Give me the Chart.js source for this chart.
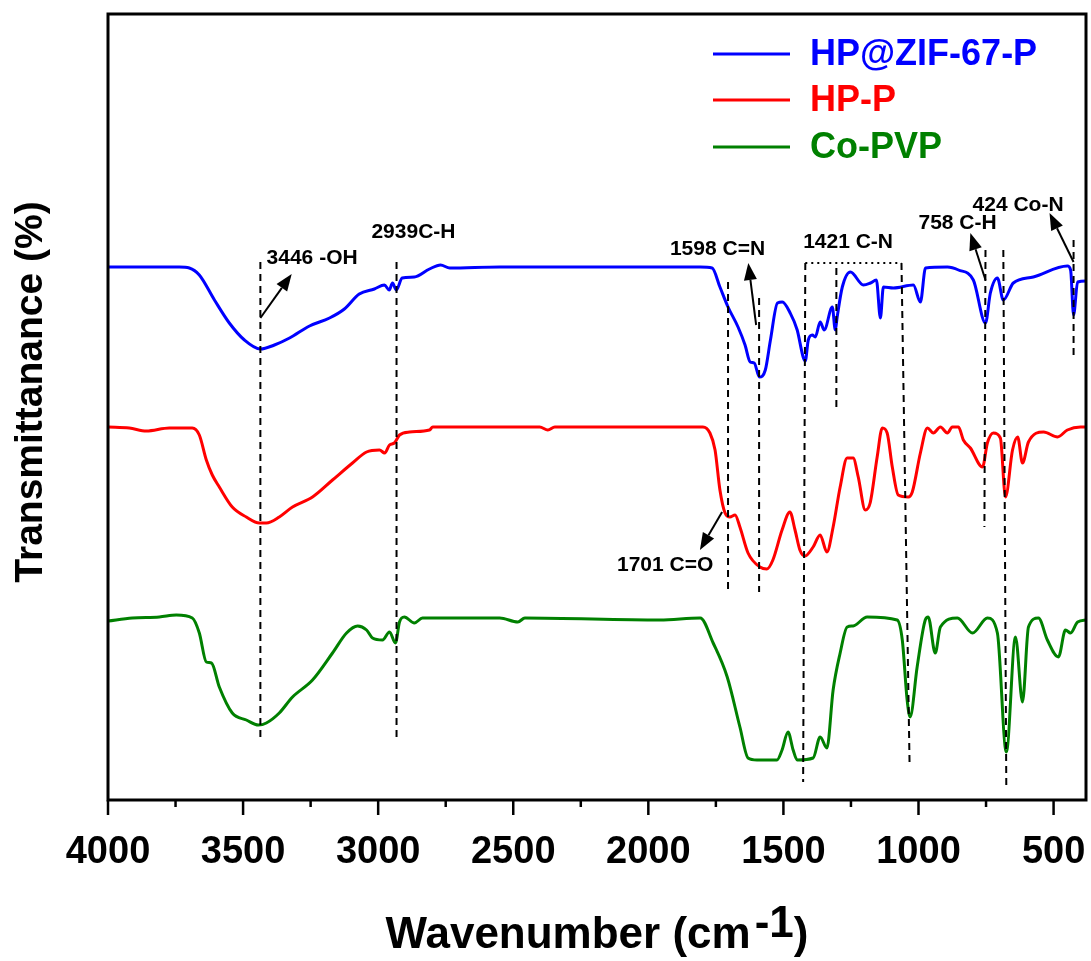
<!DOCTYPE html>
<html><head><meta charset="utf-8">
<script src="https://cdn.jsdelivr.net/npm/chart.js@4"></script>
<style>html,body{margin:0;padding:0;background:#fff;overflow:hidden}</style>
</head><body>
<canvas id="c" width="1091" height="961"></canvas>
<script>
// ---------- data ----------
const seriesNames = ['HP@ZIF-67-P', 'HP-P', 'Co-PVP'];

const hpzifWavenumber = [4000,3847,3736,3699,3662,3606,3551,3495,3436,3384,3328,3254,3180,3125,3070,3014,2977,2959,2947,2933,2911,2866,2810,2769,2735,2550,2179,1808,1764,1735,1705,1668,1642,1623,1608,1589,1567,1548,1522,1504,1475,1449,1427,1419,1408,1393,1382,1364,1349,1319,1308,1301,1282,1252,1204,1178,1156,1141,1130,1093,1019,993,974,893,852,797,752,734,708,686,649,575,449,437,426,411,378];
const hpzifT = [533,533,533,532,525,500,477,460,451,455,462,474,482,491,506,511,515,510,517,510,522,523,531,535,532,533,533,533,532,513,493,473,455,438,437,423,430,460,497,498,487,470,443,439,460,465,463,478,470,493,470,483,513,528,515,517,520,482,513,512,515,498,532,533,530,520,477,507,522,500,517,523,534,530,485,518,519];

const hppWavenumber = [4000,3921,3858,3773,3688,3662,3636,3614,3588,3540,3488,3440,3414,3366,3317,3243,3169,3095,3043,2995,2976,2958,2940,2921,2884,2810,2798,2550,2402,2372,2346,1994,1798,1772,1753,1735,1716,1698,1679,1661,1631,1587,1561,1539,1505,1476,1457,1439,1420,1390,1364,1339,1316,1290,1264,1242,1223,1197,1179,1153,1134,1116,1097,1075,1038,1023,993,967,945,919,893,875,852,834,808,763,745,723,697,678,652,633,615,593,537,485,449,400,378];
const hppT = [373,372,369,372,372,365,340,325,313,293,283,277,277,283,293,303,320,337,348,350,347,355,357,365,368,370,373,373,373,370,373,373,373,367,350,310,287,283,285,273,247,233,231,240,270,288,270,250,244,253,265,248,273,313,342,342,323,290,297,343,372,367,333,305,303,308,347,372,367,373,367,373,373,360,352,333,357,367,362,303,350,363,337,358,368,363,370,373,373];

const copvpWavenumber = [4000,3910,3810,3747,3688,3662,3636,3617,3588,3540,3488,3443,3414,3366,3317,3243,3169,3117,3076,3043,3021,2984,2958,2936,2921,2903,2866,2836,2550,2483,2457,1957,1808,1760,1708,1661,1631,1598,1524,1505,1483,1464,1449,1390,1364,1339,1316,1290,1264,1242,1190,1079,1060,1042,1031,1005,975,964,938,919,856,800,745,708,675,641,615,593,556,523,482,456,437,411,378];
const copvpT = [179,182,183,185,182,167,138,137,113,87,80,75,77,87,103,120,147,167,174,170,162,160,168,157,178,183,177,182,182,178,182,180,182,157,123,73,42,40,40,50,68,50,40,42,63,52,110,147,173,174,183,180,160,100,83,133,180,183,147,173,182,167,182,167,48,163,98,173,182,160,143,170,167,178,180];

const xTickLabels = ['4000','3500','3000','2500','2000','1500','1000','500'];

// peak marker lines: [wnTop, tTop, wnBottom, tBottom]
const peakLines = [
  [3436,538,3436,60],[2932,538,2932,60],[1705,518,1705,207],[1590,502,1590,208],
  [1419,537,1427,18],[1304,532,1304,392],[1063,537,1033,35],[752,550,756,273],
  [686,550,675,13],[426,560,426,440]
];
const bracketLine = [1419,537,1063,537];
// arrows: [wnFrom, tFrom, wnTip, tTip]
const peakArrows = [
  [3436,482,3320,526],[1601,475,1630,537],[752,520,808,567],[426,538,515,587],[1727,288,1809,250]
];
const peakLabels = ['3446 -OH','2939C-H','1598 C=N','1421 C-N','758 C-H','424 Co-N','1701 C=O'];
const peakLabelWn = [3413,3025,1920,1427,1000,800,2116];
const peakLabelT = [542,568,551,558,577,595,235];

// ---------- styles ----------
const FONT = '"Liberation Sans", Arial, sans-serif';
const COLORS = ['#0000FF', '#FF0000', '#008000'];

const toPts = (xs, ys) => xs.map((v, i) => ({x: v, y: ys[i]}));

const decor = {
  id: 'decor',
  afterDatasetsDraw(chart) {
    const {ctx, chartArea: a, scales: {x, y}} = chart;
    const P = (w, t) => [x.getPixelForValue(w), y.getPixelForValue(t)];
    ctx.save();
    ctx.strokeStyle = '#000';
    ctx.fillStyle = '#000';
    // dashed marker lines
    ctx.lineWidth = 2;
    ctx.setLineDash([7, 5]);
    for (const [w1, t1, w2, t2] of peakLines) {
      const p = P(w1, t1), q = P(w2, t2);
      ctx.beginPath(); ctx.moveTo(p[0], p[1]); ctx.lineTo(q[0], q[1]); ctx.stroke();
    }
    ctx.setLineDash([2, 4]);
    {
      const p = P(bracketLine[0], bracketLine[1]), q = P(bracketLine[2], bracketLine[3]);
      ctx.beginPath(); ctx.moveTo(p[0], p[1]); ctx.lineTo(q[0], q[1]); ctx.stroke();
    }
    ctx.setLineDash([]);
    // arrows
    for (const [w1, t1, w2, t2] of peakArrows) {
      const p = P(w1, t1), q = P(w2, t2);
      const ang = Math.atan2(q[1] - p[1], q[0] - p[0]);
      const L = 17, H = 6.5;
      const bx = q[0] - L * Math.cos(ang), by = q[1] - L * Math.sin(ang);
      ctx.lineWidth = 2;
      ctx.beginPath(); ctx.moveTo(p[0], p[1]); ctx.lineTo(bx, by); ctx.stroke();
      ctx.beginPath();
      ctx.moveTo(q[0], q[1]);
      ctx.lineTo(bx + H * Math.sin(ang), by - H * Math.cos(ang));
      ctx.lineTo(bx - H * Math.sin(ang), by + H * Math.cos(ang));
      ctx.closePath(); ctx.fill();
    }
    // peak labels
    ctx.font = 'bold 21px ' + FONT;
    ctx.textAlign = 'left';
    ctx.textBaseline = 'middle';
    peakLabels.forEach((s, i) => {
      const p = P(peakLabelWn[i], peakLabelT[i]);
      ctx.fillText(s, p[0], p[1]);
    });
    // legend
    ctx.font = 'bold 36px ' + FONT;
    const legY = [a.top + 40, a.top + 86, a.top + 133];
    chart.data.datasets.forEach((ds, i) => {
      ctx.strokeStyle = ds.borderColor;
      ctx.lineWidth = 3;
      ctx.beginPath(); ctx.moveTo(a.right - 373, legY[i]); ctx.lineTo(a.right - 296, legY[i]); ctx.stroke();
      ctx.fillStyle = ds.borderColor;
      ctx.fillText(ds.label, a.right - 276, legY[i] + 1);
    });
    // frame
    ctx.strokeStyle = '#000';
    ctx.lineWidth = 3;
    ctx.strokeRect(a.left, a.top, a.right - a.left, a.bottom - a.top);
    // tick marks
    ctx.lineWidth = 2.5;
    for (const t of x.ticks) {
      const px = x.getPixelForValue(t.value);
      const len = (t.value % 500 === 0) ? 15 : 7;
      ctx.beginPath(); ctx.moveTo(px, a.bottom); ctx.lineTo(px, a.bottom + len); ctx.stroke();
    }
    // axis titles
    ctx.fillStyle = '#000';
    ctx.font = 'bold 44px ' + FONT;
    ctx.textBaseline = 'alphabetic';
    ctx.textAlign = 'left';
    const s1 = 'Wavenumber (cm', s2 = '-1', s3 = ')';
    const w1 = ctx.measureText(s1).width, w2 = ctx.measureText(s2).width, w3 = ctx.measureText(s3).width;
    const cx = (a.left + a.right) / 2;
    let sx = cx - (w1 + w2 + w3 + 4) / 2;
    const by = 948;
    ctx.fillText(s1, sx, by);
    ctx.fillText(s2, sx + w1 + 4, by - 11);
    ctx.fillText(s3, sx + w1 + 4 + w2, by);
    ctx.save();
    ctx.translate(31, 392);
    ctx.rotate(-Math.PI / 2);
    ctx.textAlign = 'center';
    ctx.textBaseline = 'middle';
    ctx.font = 'bold 39px ' + FONT;
    ctx.fillText('Transmittanance (%)', 0, 0);
    ctx.restore();
    ctx.restore();
  }
};

new Chart(document.getElementById('c'), {
  type: 'line',
  data: {
    datasets: [
      {label: seriesNames[0], data: toPts(hpzifWavenumber, hpzifT), borderColor: COLORS[0]},
      {label: seriesNames[1], data: toPts(hppWavenumber, hppT), borderColor: COLORS[1]},
      {label: seriesNames[2], data: toPts(copvpWavenumber, copvpT), borderColor: COLORS[2]}
    ].map(d => Object.assign(d, {borderWidth: 3, pointRadius: 0, fill: false, cubicInterpolationMode: 'monotone'}))
  },
  options: {
    responsive: false,
    devicePixelRatio: 1,
    animation: false,
    layout: {padding: {top: 14, right: 5, left: 0, bottom: 0}},
    plugins: {legend: {display: false}, tooltip: {enabled: false}, title: {display: false}},
    scales: {
      x: {
        type: 'linear', reverse: true, min: 380, max: 4000,
        grid: {display: false, drawTicks: false},
        border: {display: false},
        ticks: {
          stepSize: 250, includeBounds: false, autoSkip: false, maxRotation: 0, minRotation: 0,
          padding: 30, color: '#000',
          font: {family: FONT, size: 38, weight: 'bold'},
          callback: v => (v % 500 === 0 && xTickLabels.includes(String(v))) ? String(v) : ''
        },
        afterFit(s) { s.height = 161; s.paddingLeft = 0; s.paddingRight = 0; }
      },
      y: {
        type: 'linear', min: 0, max: 786,
        grid: {display: false, drawTicks: false},
        border: {display: false},
        ticks: {display: false},
        afterFit(s) { s.width = 108; s.paddingTop = 0; s.paddingBottom = 0; }
      }
    }
  },
  plugins: [decor]
});
</script>
</body></html>
